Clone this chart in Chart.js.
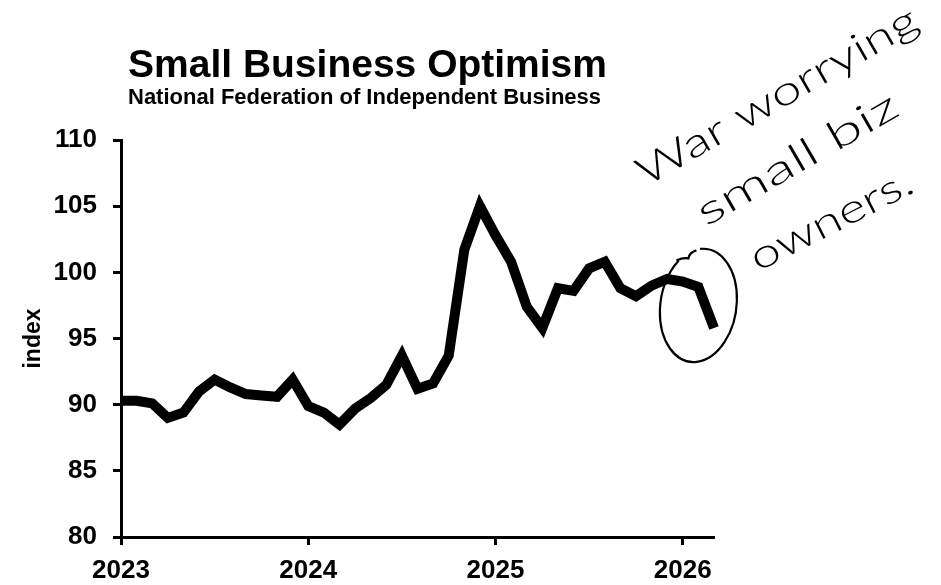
<!DOCTYPE html>
<html>
<head>
<meta charset="utf-8">
<script src="https://cdn.jsdelivr.net/npm/chart.js@4.4.1/dist/chart.umd.min.js"></script>
<style>
  html, body { margin: 0; padding: 0; background: #fff; }
  #wrap { width: 941px; height: 585px; position: relative; }
</style>
</head>
<body>
<div id="wrap"><canvas id="chart" width="941" height="585"></canvas></div>
<script>
// NFIB Small Business Optimism Index, monthly
const chartTitle = 'Small Business Optimism';
const chartSubtitle = 'National Federation of Independent Business';
const yAxisTitle = 'index';

const months = [
  '2023-01', '2023-02', '2023-03', '2023-04', '2023-05', '2023-06',
  '2023-07', '2023-08', '2023-09', '2023-10', '2023-11', '2023-12',
  '2024-01', '2024-02', '2024-03', '2024-04', '2024-05', '2024-06',
  '2024-07', '2024-08', '2024-09', '2024-10', '2024-11', '2024-12',
  '2025-01', '2025-02', '2025-03', '2025-04', '2025-05', '2025-06',
  '2025-07', '2025-08', '2025-09', '2025-10', '2025-11', '2025-12',
  '2026-01', '2026-02', '2026-03'
];

const optimism = [
  90.3, 90.3, 90.1, 89.0, 89.4, 91.0, 91.9, 91.3, 90.8, 90.7, 90.6, 91.9,
  89.9, 89.4, 88.5, 89.7, 90.5, 91.5, 93.7, 91.2, 91.6, 93.7, 101.7, 105.0,
  102.8, 100.8, 97.4, 95.8, 98.8, 98.6, 100.3, 100.8, 98.8, 98.2, 99.0, 99.5,
  99.3, 98.9, 95.8
];

const yearTicks = [2023, 2024, 2025, 2026];
const yTickValues = [80, 85, 90, 95, 100, 105, 110];

// Handwritten note beside the latest readings
const noteLines = ['War worrying', 'small biz', 'owners.'];

// Month string -> decimal year for the linear time axis
const toYear = m => {
  const [yr, mo] = m.split('-').map(Number);
  return yr + (mo - 1) / 12;
};

const FONT = '"Liberation Sans", Arial, Helvetica, sans-serif';
const HAND = 'Lato, "Noto Sans", sans-serif';

const decorations = {
  id: 'decorations',
  afterDraw(chart) {
    const { ctx, scales: { x, y } } = chart;
    ctx.save();
    ctx.fillStyle = '#000';
    ctx.textAlign = 'left';
    ctx.textBaseline = 'alphabetic';

    // Title block
    ctx.font = `bold 39px ${FONT}`;
    ctx.fillText(chartTitle, 128, 77);
    ctx.font = `bold 22px ${FONT}`;
    ctx.fillText(chartSubtitle, 128, 104);

    // Pen note, written on a slant
    const placements = [
      { x0: 646, y0: 187, angle: -30, len: 318 },
      { x0: 706, y0: 227, angle: -30, len: 226 },
      { x0: 758, y0: 272, angle: -27, len: 178 }
    ];
    ctx.font = `300 40px ${HAND}`;
    noteLines.forEach((txt, i) => {
      const p = placements[i];
      ctx.save();
      ctx.translate(p.x0, p.y0);
      ctx.rotate(p.angle * Math.PI / 180);
      const w = ctx.measureText(txt).width;
      ctx.scale(p.len / w, 1);
      ctx.fillText(txt, 0, 0);
      ctx.restore();
    });

    // Pen loop around the last three months
    const cx = x.getPixelForValue(toYear('2026-02'));
    const cy = y.getPixelForValue(97.5);
    ctx.strokeStyle = '#000';
    ctx.lineWidth = 2.2;
    ctx.beginPath();
    ctx.ellipse(cx, cy, 38, 57, 0.15, -1.75, 3.95);
    ctx.stroke();
    ctx.beginPath();
    ctx.moveTo(cx - 22, cy - 45);
    ctx.quadraticCurveTo(cx - 15, cy - 48, cx - 10, cy - 47);
    ctx.quadraticCurveTo(cx - 9, cy - 53, cx - 2, cy - 55);
    ctx.stroke();
    ctx.restore();
  }
};

const axisFont = { family: FONT, size: 26, weight: 'bold' };

new Chart(document.getElementById('chart'), {
  type: 'line',
  data: {
    datasets: [{
      data: months.map((m, i) => ({ x: toYear(m), y: optimism[i] })),
      borderColor: '#000',
      borderWidth: 10,
      pointRadius: 0,
      tension: 0,
      borderJoinStyle: 'miter',
      borderCapStyle: 'butt',
      fill: false,
      clip: false
    }]
  },
  options: {
    responsive: false,
    animation: false,
    layout: { padding: { left: 20, right: 227, top: 140, bottom: 0 } },
    plugins: { legend: { display: false }, tooltip: { enabled: false } },
    scales: {
      x: {
        type: 'linear',
        min: toYear(months[0]),
        max: toYear(months[months.length - 1]),
        afterBuildTicks: s => { s.ticks = yearTicks.map(v => ({ value: v })); },
        afterFit: s => { s.height = 48; },
        grid: { drawOnChartArea: false, drawTicks: true, tickLength: 8, tickWidth: 3, tickColor: '#000' },
        border: { display: true, color: '#000', width: 3 },
        ticks: {
          color: '#000', font: axisFont, padding: 10,
          maxRotation: 0, autoSkip: false,
          callback: v => String(v)
        }
      },
      y: {
        min: 80,
        max: 110,
        afterBuildTicks: s => { s.ticks = yTickValues.map(v => ({ value: v })); },
        afterFit: s => { s.width = 121 - 20; },
        grid: { drawOnChartArea: false, drawTicks: true, tickLength: 8, tickWidth: 3, tickColor: '#000' },
        border: { display: true, color: '#000', width: 3 },
        ticks: { color: '#000', font: axisFont, padding: 16 },
        title: {
          display: true, text: yAxisTitle, color: '#000', padding: 0,
          font: { family: FONT, size: 23, weight: 'bold' }
        }
      }
    }
  },
  plugins: [decorations]
});
</script>
</body>
</html>
